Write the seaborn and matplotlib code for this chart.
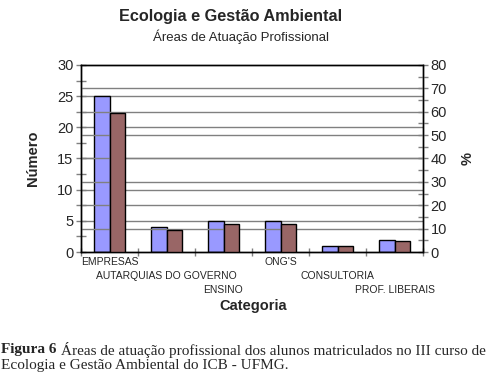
# Áreas de atuação profissional - Ecologia e Gestão Ambiental (ICB - UFMG)
import numpy as np
import pandas as pd
import matplotlib
matplotlib.use("Agg")
import matplotlib.pyplot as plt
import seaborn as sns

# ---- Data ----
categorias = ["EMPRESAS", "AUTARQUIAS DO GOVERNO", "ENSINO", "ONG'S",
              "CONSULTORIA", "PROF. LIBERAIS"]
numero = [25, 4, 5, 5, 1, 2]
percentual = [59.5, 9.5, 11.9, 11.9, 2.4, 4.8]
series = ["Número", "%"]

# long table: each series on its own axis, the other left empty so dodge keeps both slots
df = pd.DataFrame({
    "categoria": categorias * 2,
    "serie": [series[0]] * len(categorias) + [series[1]] * len(categorias),
    "numero": numero + [np.nan] * len(categorias),
    "pct": [np.nan] * len(categorias) + percentual,
})

cores = {"Número": "#9999FF", "%": "#996666"}

sns.set_style("white")
plt.rcParams["font.family"] = ["Liberation Sans", "DejaVu Sans"]

fig = plt.figure(figsize=(5.01, 3.78), dpi=100)
ax = fig.add_axes([81 / 501, 1 - 252 / 378, (423 - 81) / 501, (252 - 65) / 378])
ax2 = ax.twinx()

for a, col in ((ax, "numero"), (ax2, "pct")):
    sns.barplot(data=df, x="categoria", y=col, hue="serie", hue_order=series,
                palette=cores, saturation=1, edgecolor="black", linewidth=1,
                width=0.53, gap=0, legend=False, ax=a)

ax.set_xlim(-0.5, len(categorias) - 0.5)
ax.set_ylim(0, 30)
ax2.set_ylim(0, 80)

# grids from both axes, drawn behind bars
for y in range(5, 30, 5):
    ax.axhline(y, color="#808080", lw=1, zorder=0)
for y in range(10, 80, 10):
    ax2.axhline(y, color="#808080", lw=1, zorder=0)
for b in ax2.patches:
    b.set_zorder(3)

for a in (ax, ax2):
    for s in a.spines.values():
        s.set_color("black")
        s.set_linewidth(1)

# y ticks
ax.set_yticks(range(0, 31, 5))
ax.set_yticks(np.arange(2.5, 30, 5), minor=True)
ax2.set_yticks(range(0, 81, 10))
ax2.set_yticks(range(5, 80, 10), minor=True)
for a in (ax, ax2):
    a.tick_params(axis="y", which="major", direction="inout", length=7,
                  width=1, labelsize=10.5, pad=2, color="#808080")
    a.tick_params(axis="y", which="minor", direction="inout", length=7,
                  width=1, color="#808080")
ax.tick_params(axis="y", left=True, right=False)
ax2.tick_params(axis="y", left=False, right=True)

# x ticks: marks between groups, staggered labels at centres
ax.set_xticks(np.arange(-0.5, len(categorias), 1))
ax.set_xticklabels([])
ax.tick_params(axis="x", which="major", direction="inout", length=6,
               width=1, color="#808080", bottom=True)
trans = ax.get_xaxis_transform()
for i, c in enumerate(categorias):
    ax.text(i, -(10 + 14 * (i % 3)) / 187, c, transform=trans, ha="center",
            va="center", fontsize=7.5)

ax.set_xlabel("")
ax.set_ylabel("Número", fontsize=10.5, fontweight="bold", labelpad=12)
ax2.set_ylabel("%", fontsize=10.5, fontweight="bold", labelpad=10)

fig.text(253 / 501, 1 - 306 / 378, "Categoria", ha="center", va="center",
         fontsize=10.5, fontweight="bold")
fig.text(231 / 501, 1 - 17 / 378, "Ecologia e Gestão Ambiental", ha="center",
         va="center", fontsize=11.7, fontweight="bold")
fig.text(241 / 501, 1 - 37 / 378, "Áreas de Atuação Profissional", ha="center",
         va="center", fontsize=9.5)

# caption: bold "Figura 6" followed by regular text
serif = "Liberation Serif"
fig_lbl = fig.text(0.002, 1 - 350 / 378, "Figura 6", ha="left", va="center",
                   fontsize=11, family=serif, fontweight="bold")
fig.canvas.draw()
bb = fig_lbl.get_window_extent().transformed(fig.transFigure.inverted())
fig.text(bb.x1 + 4 / 501, 1 - 350 / 378,
         "Áreas de atuação profissional dos alunos matriculados no III curso de",
         ha="left", va="center", fontsize=11, family=serif)
fig.text(0.002, 1 - 366 / 378, "Ecologia e Gestão Ambiental do ICB - UFMG.",
         ha="left", va="center", fontsize=11, family=serif)

fig.savefig("out.png", dpi=100)
